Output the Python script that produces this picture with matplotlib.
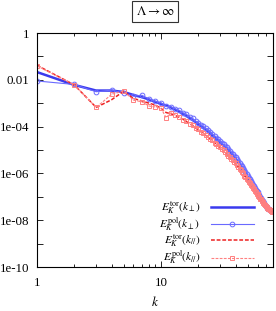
import numpy as np
import matplotlib
matplotlib.use("Agg")
import matplotlib.pyplot as plt
from matplotlib.ticker import FixedLocator, FuncFormatter, NullFormatter

plt.rcParams['font.family'] = ['Liberation Serif', 'DejaVu Serif']
plt.rcParams['mathtext.fontset'] = 'stix'

# wavenumber shells
k = np.arange(1, 79)

# log10 of the spectra
log_tor_perp = [
    -1.67, -2.22, -2.46, -2.46, -2.52, -2.65, -2.74, -2.84, -2.94, -3.03,
    -3.10, -3.18, -3.27, -3.36, -3.45, -3.54, -3.63, -3.72, -3.81, -3.90,
    -3.99, -4.06, -4.14, -4.22, -4.30, -4.38, -4.46, -4.54, -4.61, -4.68,
    -4.75, -4.82, -4.88, -4.95, -5.02, -5.09, -5.16, -5.24, -5.31, -5.38,
    -5.45, -5.52, -5.60, -5.67, -5.75, -5.83, -5.91, -5.99, -6.07, -6.15,
    -6.23, -6.31, -6.38, -6.45, -6.52, -6.59, -6.66, -6.72, -6.78, -6.84,
    -6.90, -6.96, -7.02, -7.08, -7.13, -7.19, -7.24, -7.29, -7.34, -7.39,
    -7.43, -7.47, -7.50, -7.53, -7.55, -7.57, -7.59, -7.61]
log_pol_perp = [
    -2.05, -2.20, -2.51, -2.44, -2.57, -2.70, -2.66, -2.82, -2.92, -2.98,
    -3.14, -3.15, -3.24, -3.30, -3.41, -3.47, -3.58, -3.65, -3.76, -3.83,
    -3.93, -3.99, -4.08, -4.15, -4.24, -4.32, -4.40, -4.47, -4.55, -4.61,
    -4.70, -4.76, -4.83, -4.89, -4.97, -5.03, -5.11, -5.18, -5.26, -5.32,
    -5.40, -5.47, -5.55, -5.62, -5.70, -5.78, -5.86, -5.94, -6.02, -6.10,
    -6.18, -6.26, -6.34, -6.41, -6.48, -6.55, -6.62, -6.69, -6.75, -6.81,
    -6.88, -6.94, -7.00, -7.06, -7.12, -7.17, -7.23, -7.28, -7.33, -7.38,
    -7.42, -7.46, -7.50, -7.53, -7.56, -7.58, -7.60, -7.62]
log_tor_par = [
    -1.38, -2.22, -3.18, -2.85, -2.49, -2.80, -2.90, -3.00, -3.08, -3.22,
    -3.40, -3.45, -3.52, -3.60, -3.68, -3.78, -3.87, -3.96, -4.05, -4.14,
    -4.22, -4.30, -4.38, -4.46, -4.54, -4.61, -4.69, -4.76, -4.83, -4.90,
    -4.97, -5.04, -5.10, -5.17, -5.24, -5.31, -5.38, -5.45, -5.52, -5.59,
    -5.66, -5.73, -5.80, -5.87, -5.94, -6.01, -6.09, -6.16, -6.23, -6.30,
    -6.37, -6.44, -6.50, -6.57, -6.63, -6.69, -6.75, -6.81, -6.87, -6.92,
    -6.98, -7.03, -7.08, -7.13, -7.18, -7.23, -7.27, -7.32, -7.36, -7.40,
    -7.44, -7.48, -7.51, -7.54, -7.57, -7.59, -7.61, -7.63]
log_pol_par = [
    -1.40, -2.22, -3.18, -2.62, -2.48, -2.87, -2.94, -3.12, -3.16, -3.22,
    -3.62, -3.41, -3.50, -3.57, -3.70, -3.74, -3.88, -3.92, -4.06, -4.10,
    -4.22, -4.27, -4.38, -4.43, -4.54, -4.59, -4.69, -4.74, -4.83, -4.88,
    -4.97, -5.02, -5.10, -5.15, -5.24, -5.29, -5.38, -5.43, -5.52, -5.57,
    -5.66, -5.71, -5.80, -5.85, -5.94, -5.99, -6.09, -6.14, -6.23, -6.28,
    -6.37, -6.42, -6.50, -6.55, -6.63, -6.67, -6.75, -6.79, -6.87, -6.90,
    -6.98, -7.01, -7.08, -7.11, -7.18, -7.21, -7.27, -7.30, -7.36, -7.38,
    -7.44, -7.46, -7.51, -7.53, -7.57, -7.58, -7.61, -7.63]

labels = [r'$E_K^{\rm tor}(k_\perp)$', r'$E_K^{\rm pol}(k_\perp)$',
          r'$E_K^{\rm tor}(k_{//})$', r'$E_K^{\rm pol}(k_{//})$']

fig = plt.figure(figsize=(2.76, 3.11), dpi=100)
ax = fig.add_axes([37 / 276, 1 - 267 / 311, 236 / 276, 234 / 311])

ax.plot(k, 10 ** np.array(log_tor_perp), color='#3a3aee', lw=1.8, label=labels[0])
ax.plot(k, 10 ** np.array(log_pol_perp), color='#6a6aff', lw=0.8,
        marker='o', ms=3.4, mfc='none', mew=0.7, label=labels[1])
ax.plot(k, 10 ** np.array(log_tor_par), color='#ee2020', lw=1.1,
        ls=(0, (2.5, 1.2)), label=labels[2])
ax.plot(k, 10 ** np.array(log_pol_par), color='#ff8080', lw=0.8,
        ls=(0, (2.5, 1.2)), marker='s', ms=3.4, mfc='none', mew=0.7, label=labels[3])

ax.set_xscale('log')
ax.set_yscale('log')
ax.set_xlim(1, 80)
ax.set_ylim(1e-10, 1)

ax.xaxis.set_major_locator(FixedLocator([1, 10]))
ax.xaxis.set_minor_locator(FixedLocator([2, 3, 4, 5, 6, 7, 8, 9, 20, 30, 40, 50, 60, 70]))
ax.xaxis.set_minor_formatter(NullFormatter())
ax.xaxis.set_major_formatter(FuncFormatter(lambda v, p: '%d' % v))

ax.yaxis.set_major_locator(FixedLocator([10.0 ** e for e in range(-10, 1)]))
ax.yaxis.set_minor_locator(FixedLocator([]))
ylab = {0: '1', -2: '0.01', -4: '1e-04', -6: '1e-06', -8: '1e-08', -10: '1e-10'}
ax.yaxis.set_major_formatter(FuncFormatter(
    lambda v, p: ylab.get(int(round(np.log10(v))), '')))

ax.tick_params(which='both', direction='in', top=True, right=True,
               labelsize=9.3, width=0.6)
ax.tick_params(which='major', length=4.5)
ax.tick_params(which='minor', length=2.5)
ax.tick_params(axis='y', pad=5.5)
ax.tick_params(axis='x', pad=7.5)
for s in ax.spines.values():
    s.set_linewidth(0.8)

ax.set_xlabel(r'$k$', fontsize=9.5, labelpad=4)

ax.legend(loc='lower right', markerfirst=False, frameon=False, fontsize=8.2,
          handlelength=3.8, labelspacing=-0.05, borderaxespad=0.0, borderpad=0.0,
          handletextpad=0.9, bbox_to_anchor=(0.92, 0.0))

fig.text(155 / 276, 1 - 11.5 / 311, r'$\Lambda \rightarrow \infty$', ha='center',
         va='center', fontsize=9.5,
         bbox=dict(boxstyle='square,pad=0.3', fc='white', ec='#333333', lw=0.8))

fig.savefig('out.png', dpi=100)
